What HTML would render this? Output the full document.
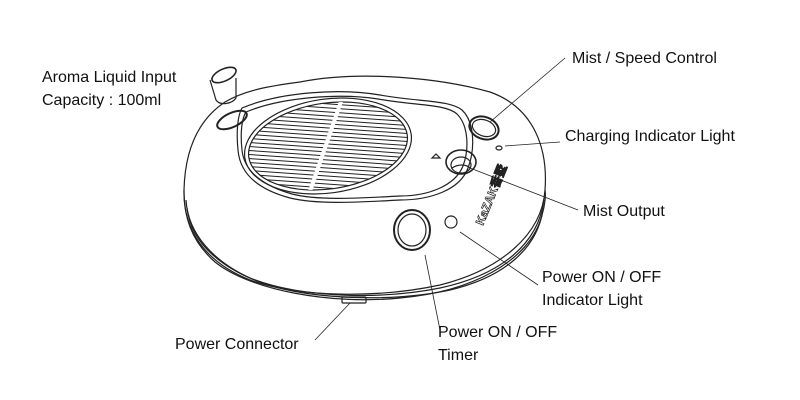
<!DOCTYPE html><html><head><style>body{margin:0;background:#fff}svg{display:block}text{font-family:"Liberation Sans",Arial,sans-serif;font-size:16px;fill:#111}</style></head><body>
<svg width="800" height="400" viewBox="0 0 800 400" fill="none" stroke="#222" stroke-width="1.2">
<path d="M300,82 C360,70 440,78 490,92 C535,108 548,150 545,190 C542,235 500,270 440,285 C380,298 300,298 250,280 C205,262 183,230 184,190 C185,150 198,120 225,102 C245,90 270,86 300,82Z"/>
<path d="M184,190 C184,215 190,240 215,262 C250,290 330,305 400,298 C470,292 530,262 542,215 C545,205 546,195 545,190" />
<path d="M186,200 C188,235 215,262 250,278 C300,298 380,300 440,288 C500,275 538,245 544,200"/>
<path d="M187,208 C191,245 225,270 265,284 C315,300 395,302 450,290 C505,277 537,248 543,210"/>
<path d="M242,108 C280,92 340,88 380,95 C420,102 450,100 462,110 C475,122 475,150 468,168 C460,190 430,200 400,200 C360,202 320,205 290,198 C260,190 240,175 238,150 C236,130 238,115 242,108Z"/>
<path d="M246,112 C282,97 340,93 378,99 C418,106 446,104 457,114 C469,126 469,150 463,166 C455,186 428,196 400,196 C360,198 320,201 292,194 C264,186 244,172 242,150 C240,132 242,118 246,112Z"/>
<g transform="rotate(-8 328 146)">
<ellipse cx="328" cy="146" rx="84" ry="47"/>
<ellipse cx="328" cy="146" rx="80" ry="43"/>
<clipPath id="c"><ellipse cx="328" cy="146" rx="80" ry="43"/></clipPath>
<g clip-path="url(#c)" stroke-width="1">
<g transform="rotate(12 328 146)">
<path d="M220,96h220M220,100h220M220,104h220M220,108h220M220,112h220M220,116h220M220,120h220M220,124h220M220,128h220M220,132h220M220,136h220M220,140h220M220,144h220M220,148h220M220,152h220M220,156h220M220,160h220M220,164h220M220,168h220M220,172h220M220,176h220M220,180h220M220,184h220M220,188h220M220,192h220"/>
</g>
<path d="M350,98 L300,196" stroke="#fff" stroke-width="4"/>
</g></g>
<ellipse cx="232" cy="120" rx="16" ry="7" transform="rotate(-25 232 120)" stroke-width="2"/>
<path d="M210,80 L216,100 C220,106 232,104 236,98 L236,78" />
<ellipse cx="224" cy="75" rx="13" ry="6" transform="rotate(-25 224 75)" stroke-width="1.6"/>
<ellipse cx="484" cy="128" rx="15" ry="11" transform="rotate(20 484 128)" stroke-width="2"/>
<ellipse cx="484" cy="128" rx="12" ry="8" transform="rotate(20 484 128)"/>
<ellipse cx="499" cy="148" rx="3" ry="2"/>
<ellipse cx="461" cy="162" rx="15" ry="12" stroke-width="1.6"/>
<ellipse cx="461" cy="165" rx="10" ry="8"/>
<path d="M452,168 C458,164 466,164 470,168"/>
<path d="M432,158 l4,-4 l4,4 z"/>
<ellipse cx="412" cy="230" rx="18" ry="20" stroke-width="2"/>
<ellipse cx="412" cy="230" rx="14" ry="16"/>
<circle cx="451" cy="222" r="6"/>
<text x="0" y="0" transform="translate(483,226) rotate(-68)" style="font-size:12px;font-weight:bold;fill:none;stroke:#222;stroke-width:0.7">KaZAK香墅</text>
<rect x="342" y="297" width="24" height="6" rx="1"/>
<g stroke-width="0.8">
<line x1="565" y1="58" x2="490" y2="122"/>
<line x1="560" y1="142" x2="505" y2="146"/>
<line x1="578" y1="210" x2="470" y2="168"/>
<line x1="538" y1="285" x2="460" y2="232"/>
<line x1="440" y1="330" x2="425" y2="255"/>
<line x1="315" y1="340" x2="350" y2="303"/>
</g>
<g stroke="none">
<text x="42" y="82">Aroma Liquid Input</text>
<text x="42" y="105">Capacity : 100ml</text>
<text x="572" y="63">Mist / Speed Control</text>
<text x="565" y="141">Charging Indicator Light</text>
<text x="583" y="216">Mist Output</text>
<text x="542" y="282">Power ON / OFF</text>
<text x="542" y="305">Indicator Light</text>
<text x="438" y="337">Power ON / OFF</text>
<text x="438" y="360">Timer</text>
<text x="175" y="349">Power Connector</text>
</g>
</svg></body></html>
